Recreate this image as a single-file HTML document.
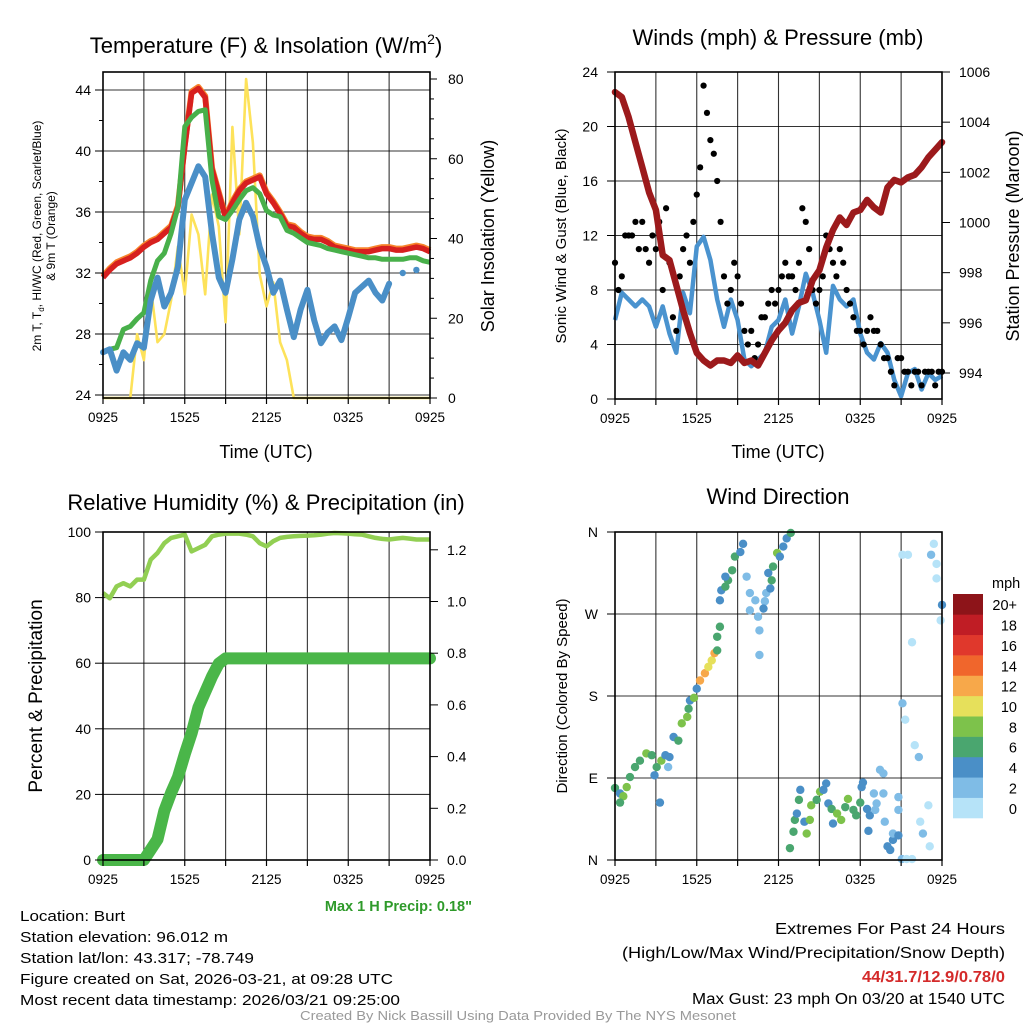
<!DOCTYPE html>
<html><head><meta charset="utf-8">
<style>
html,body{margin:0;padding:0;background:#fff;}
svg{display:block;font-family:"Liberation Sans",sans-serif;}
</style></head>
<body>
<svg id="fig" width="1024" height="1024" viewBox="0 0 1024 1024" xmlns="http://www.w3.org/2000/svg">
<rect width="1024" height="1024" fill="#fff"/>
<g id="root"></g>
</svg>
<script>
// ---------- DATA ----------
const hours = [0,0.5,1,1.5,2,2.5,3,3.5,4,4.5,5,5.5,6,6.5,7,7.5,8,8.5,9,9.5,10,10.5,11,11.5,12,12.5,13,13.5,14,14.5,15,15.5,16,16.5,17,17.5,18,18.5,19,19.5,20,20.5,21,21.5,22,22.5,23,23.5,24];
const xTickLabels = ["0925","1525","2125","0325","0925"];
// Panel 1 temperatures (F)
const tempRed   = [31.7,32.2,32.6,32.8,33.0,33.3,33.7,34.0,34.2,34.6,35.0,36.3,40.3,43.8,44.1,43.5,38.8,37.2,35.6,36.6,37.4,37.9,38.1,38.3,37.2,36.6,35.9,35.1,35.0,34.6,34.3,34.2,34.2,34.0,33.7,33.6,33.5,33.4,33.4,33.4,33.5,33.6,33.6,33.5,33.5,33.6,33.7,33.6,33.4];
const tempGreen = [null,27.0,27.1,28.3,28.5,29.0,29.4,31.5,32.8,33.3,34.6,36.3,41.6,42.2,42.6,42.7,38.1,35.7,35.5,36.1,36.8,37.4,37.6,37.2,36.1,35.8,35.7,34.8,34.6,34.3,34.0,33.9,33.8,33.6,33.5,33.4,33.3,33.2,33.1,33.0,33.0,32.9,32.9,32.9,32.9,33.0,33.0,32.8,32.7];
const tempBlue  = [26.8,27.0,25.6,26.8,26.3,27.4,27.1,30.2,31.7,29.8,30.7,32.4,36.8,37.9,39.0,38.3,34.6,31.7,30.7,32.9,35.5,36.6,35.7,33.7,32.4,30.7,31.5,29.6,27.8,29.6,30.9,28.9,27.4,28.1,28.5,27.6,29.1,30.7,31.1,31.5,30.7,30.2,31.3,null,32.0,null,32.2,null,null];
const insolation = [0,0,0,0,0,16,9.5,28,14,16,24.5,38,26,46,41,26,51,43,19,68,41,80,64,31,23,29,14,9.5,0,0,0,0,0,0,0,0,0,0,0,0,0,0,0,0,0,0,0,0,0];
const tempTicks = [24,28,32,36,40,44];
const insolTicks = [0,20,40,60,80];
// Panel 2 winds / pressure
const windSpeed = [5.8,7.8,7.3,6.8,7.3,6.8,5.3,6.8,4.8,3.4,7.8,6.3,11.2,11.9,10.2,7.3,5.3,7.3,5.8,2.9,2.4,2.9,3.4,5.3,5.8,7.3,4.8,6.8,9.2,7.8,5.8,3.4,8.3,7.3,6.8,7.3,4.8,3.4,2.9,4.1,3.4,1.4,0.2,1.9,2.2,0.7,1.9,1.4,1.7];
const pressure = [1005.2,1005.0,1004.2,1003.2,1002.2,1001.2,1000.5,998.7,998.5,997.5,996.5,995.6,994.8,994.5,994.3,994.5,994.5,994.4,994.7,994.4,994.5,994.3,994.8,995.3,995.7,996.0,996.5,996.8,996.9,997.7,998.1,999.0,999.7,1000.2,999.9,1000.4,1000.5,1000.9,1000.6,1000.4,1001.4,1001.7,1001.6,1001.8,1001.9,1002.2,1002.6,1002.9,1003.2];
const gustHours = [0,0.25,0.5,0.75,1,1.25,1.5,1.75,2,2.25,2.5,2.75,3,3.25,3.5,3.75,4,4.25,4.5,4.75,5,5.25,5.5,5.75,6,6.25,6.5,6.75,7,7.25,7.5,7.75,8,8.25,8.5,8.75,9,9.25,9.5,9.75,10,10.25,10.5,10.75,11,11.25,11.5,11.75,12,12.25,12.5,12.75,13,13.25,13.5,13.75,14,14.25,14.5,14.75,15,15.25,15.5,15.75,16,16.25,16.5,16.75,17,17.25,17.5,17.75,18,18.25,18.5,18.75,19,19.25,19.5,19.75,20,20.25,20.5,20.75,21,21.25,21.5,21.75,22,22.25,22.5,22.75,23,23.25,23.5,23.75,24];
const gusts = [10,8,9,12, 12,12,13,11, 13,11,10,12, 11,13,8,14, 10,6,5,9, 11,12,10,13, 15,17,23,21, 19,18,16,13, 9,7,8,10, 9,7,5,4, 5,3,4,6, 6,7,8,7, 8,9,10,9, 9,8,10,14, 13,11,8,7, 8,9,12,11, 10,9,11,10, 8,7,6,5, 5,4,5,6, 5,5,4,3, 3,2,1,3, 3,2,2,1, 2,2,1,2, 2,2,1,2, 2];
const windTicks = [0,4,8,12,16,20,24];
const presTicks = [994,996,998,1000,1002,1004,1006];
// Panel 3 RH / precip
const rh = [81.4,79.8,83.4,84.4,83.4,85.5,85.5,91.6,93.6,96.6,98.2,98.7,99.2,94.1,95.1,96.1,98.7,99.2,99.5,99.5,99.5,99.2,98.7,96.6,95.6,97.2,98.2,98.5,98.7,98.8,98.9,99.0,99.2,99.5,99.7,99.6,99.5,99.3,99.2,98.7,98.2,97.9,97.7,98.0,98.2,98.0,97.7,97.7,97.7];
const precip = [0,0,0,0,0,0,0,0.04,0.08,0.19,0.26,0.32,0.41,0.49,0.59,0.65,0.71,0.76,0.78,0.78,0.78,0.78,0.78,0.78,0.78,0.78,0.78,0.78,0.78,0.78,0.78,0.78,0.78,0.78,0.78,0.78,0.78,0.78,0.78,0.78,0.78,0.78,0.78,0.78,0.78,0.78,0.78,0.78,0.78];
const pctTicks = [0,20,40,60,80,100];
const precipTicks = ["0.0","0.2","0.4","0.6","0.8","1.0","1.2"];
// Panel 4 wind direction
const dirHours = [0,0.37,0.61,0.37,0.86,1.1,1.47,1.83,2.3,2.7,3.06,2.9,3.3,3.4,3.7,4.0,3.9,4.3,4.65,4.9,5.3,5.4,5.5,5.8,6.0,6.24,6.6,6.85,7.1,7.3,7.5,7.5,7.7,7.7,7.8,8.1,8.3,8.1,8.6,8.8,9.2,9.4,9.66,9.9,10.3,9.9,10.5,10.6,10.6,11.0,10.9,11.1,11.4,11.5,11.25,11.6,11.9,12.1,12.35,12.6,12.9,
 12.84,13.1,13.2,13.35,13.6,13.5,13.9,14.07,14.3,14.4,14.8,15.05,15.3,15.5,15.66,15.9,16.0,16.3,16.6,16.9,17.1,17.5,17.7,18.0,18.1,18.2,18.5,18.7,18.6,19.1,19.0,19.2,19.45,19.7,19.7,19.8,20.0,20.2,20.4,20.4,20.8,20.8,20.8,21.05,21.4,21.8,22.4,22.6,23.0,23.1,21.1,21.3,22.0,22.3,21.1,21.5,21.8,23.2,23.4,23.6,23.6,24,23.9];
const dirDeg = [79,73,70,63,80,91,102,109,117,115,102,93,63,109,115,113,102,135,131,150,157,166,175,178,188,197,205,212,219,227,230,245,256,285,296,300,307,311,318,333,338,347,311,293,285,274,267,252,225,284,276,293,298,307,315,322,337,333,344,353,359,
 13,31,44,51,77,66,42,29,44,60,66,75,77,84,62,56,40,51,44,58,67,55,49,63,80,85,56,49,32,55,73,62,99,95,73,42,15,11,22,29,27,55,69,1,1,1,42,29,60,15,172,154,126,113,335,335,239,335,347,325,309,280,263];
const dirSpeed = [6,4,8,6,8,6,6,6,8,6,6,4,4,8,4,4,2,4,6,8,8,6,4,8,4,12,12,10,10,12,6,6,6,4,4,6,6,4,6,6,4,4,2,2,2,2,2,2,2,2,4,2,4,6,4,6,8,4,4,4,6,
 6,6,6,4,4,6,4,8,8,8,6,8,4,4,4,6,4,8,8,6,8,6,6,6,4,4,4,4,4,2,2,2,2,2,2,2,4,4,4,2,4,2,2,2,0,0,0,2,0,0,2,0,0,2,0,0,0,2,0,0,0,4,0];
const dirTicks = ["N","E","S","W","N"];
const speedBins = ["0","2","4","6","8","10","12","14","16","18","20+"];
const speedColors = ["#b6e3f8","#7fbce6","#4a8fc7","#4aa66f","#7dc24b","#e6e05b","#f7a84a","#f0662c","#e0382c","#c01d25","#8d1419"];

// ---------- HELPERS ----------
const NS = "http://www.w3.org/2000/svg";
const root = document.getElementById("root");
function mk(tag, attrs, parent){ const e=document.createElementNS(NS,tag); for(const k in attrs) e.setAttribute(k,attrs[k]); (parent||root).appendChild(e); return e; }
function txt(s, attrs, parent){ const e=mk("text",attrs,parent); e.textContent=s; return e; }
const PX0=103, PX1=430, QX0=615, QX1=942;
const xA = t => PX0 + t*(PX1-PX0)/24;
const xB = t => QX0 + t*(QX1-QX0)/24;
function lin(d0,d1,r0,r1){ return v => r0 + (v-d0)*(r1-r0)/(d1-d0); }
function pathFrom(xs, ys, xf, yf){
  let d="", pen=false;
  for(let i=0;i<xs.length;i++){ const v=ys[i]; if(v===null){pen=false;continue;} d+=(pen?"L":"M")+xf(xs[i]).toFixed(1)+","+yf(v).toFixed(1); pen=true; }
  return d;
}
function grid(g, x0,x1,y0,y1, ys){
  for(let k=1;k<8;k++){ const x=x0+k*(x1-x0)/8; const l=mk("line",{x1:x,x2:x,y1:y0,y2:y1,stroke:"#000","stroke-width":1.1,"stroke-opacity":0.8},g);   }
  ys.forEach(y=>{ const l=mk("line",{x1:x0,x2:x1,y1:y,y2:y,stroke:"#000","stroke-width":1.1,"stroke-opacity":0.8},g);   });
}
function frame(g,x0,x1,y0,y1){
  const r=mk("rect",{x:x0,y:y0,width:x1-x0,height:y1-y0,fill:"none",stroke:"#000","stroke-width":1.6},g);
   
}
function xAxis(g,x0,x1,y1,xf){
  for(let k=0;k<=8;k++){ const x=x0+k*(x1-x0)/8; mk("line",{x1:x,x2:x,y1:y1,y2:y1+6,stroke:"#000","stroke-width":1.2},g); }
  xTickLabels.forEach((s,i)=>{ const t=txt(s,{x:xf(i*6),y:y1+24,"font-size":13.5,"text-anchor":"middle"},g);   });
}

// ---------- PANEL 1 ----------
(function(){
  const g=mk("g",{});  
  const yT=lin(24,44,395,90), yI=lin(0,80,398,79);
  grid(g,PX0,PX1,72,398,tempTicks.slice(1,5).map(yT).concat([yT(44),yT(24)]));
  const sI=mk("path",{d:pathFrom(hours,insolation,xA,yI),fill:"none",stroke:"#fde25a","stroke-width":2.6,"stroke-linejoin":"round"},g);  
  const sO=mk("path",{d:pathFrom(hours,tempRed,xA,yT),fill:"none",stroke:"#f7842c","stroke-width":6,"stroke-linejoin":"round",transform:"translate(0,-1.5)"},g);  
  const sR=mk("path",{d:pathFrom(hours,tempRed,xA,yT),fill:"none",stroke:"#d7201f","stroke-width":5.5,"stroke-linejoin":"round"},g);  
  const sG=mk("path",{d:pathFrom(hours,tempGreen,xA,yT),fill:"none",stroke:"#48b04a","stroke-width":5,"stroke-linejoin":"round"},g);  
  const sB=mk("path",{d:pathFrom(hours,tempBlue,xA,yT),fill:"none",stroke:"#4a8fc7","stroke-width":6,"stroke-linejoin":"round","stroke-linecap":"round"},g);  
  [32.0,32.2].forEach((v,i)=>{ const c=mk("circle",{cx:xA([22,23][i]),cy:yT(v),r:3.2,fill:"#4a8fc7"},g);   });
  frame(g,PX0,PX1,72,398);
  tempTicks.forEach(v=>{ mk("line",{x1:95,x2:PX0,y1:yT(v),y2:yT(v),stroke:"#000"},g); const t=txt(String(v),{x:91,y:yT(v)+5,"font-size":14,"text-anchor":"end"},g);   });
  for(let v=26;v<44;v+=4) mk("line",{x1:99,x2:PX0,y1:yT(v),y2:yT(v),stroke:"#000"},g);
  insolTicks.forEach(v=>{ mk("line",{x1:PX1,x2:PX1+7,y1:yI(v),y2:yI(v),stroke:"#000"},g); const t=txt(String(v),{x:448,y:yI(v)+5,"font-size":14},g);   });
  for(let v=5;v<80;v+=5) if(v%20) mk("line",{x1:PX1,x2:PX1+4,y1:yI(v),y2:yI(v),stroke:"#000"},g);
  xAxis(g,PX0,PX1,398,xA);
  const ti=txt("",{x:266,y:53,"font-size":22,"text-anchor":"middle"},g); ti.innerHTML='Temperature (F) &amp; Insolation (W/m<tspan dy="-9" font-size="14">2</tspan><tspan dy="9">)</tspan>';  
  const xt=txt("Time (UTC)",{x:266,y:458,"font-size":18,"text-anchor":"middle"},g);  
  const yl=txt("",{transform:"translate(41,236) rotate(-90)","font-size":12,"text-anchor":"middle"},g); yl.innerHTML='2m T, T<tspan dy="3" font-size="8">d</tspan><tspan dy="-3">, HI/WC (Red, Green, Scarlet/Blue)</tspan>';  
  const yl2=txt("& 9m T (Orange)",{transform:"translate(55,236) rotate(-90)","font-size":12,"text-anchor":"middle"},g);  
  const yr=txt("Solar Insolation (Yellow)",{transform:"translate(494,236) rotate(-90)","font-size":18,"text-anchor":"middle"},g);  
})();

// ---------- PANEL 2 ----------
(function(){
  const g=mk("g",{});  
  const yW=lin(0,24,399,72), yP=lin(994,1006,373,72);
  grid(g,QX0,QX1,72,399,windTicks.slice(1,6).map(yW));
  const sW=mk("path",{d:pathFrom(hours,windSpeed,xB,yW),fill:"none",stroke:"#4a93cf","stroke-width":4.5,"stroke-linejoin":"round"},g);  
  gustHours.forEach((h,i)=>{ const c=mk("circle",{cx:xB(h),cy:yW(gusts[i]),r:3.1,fill:"#000"},g);   });
  const sP=mk("path",{d:pathFrom(hours,pressure,xB,yP),fill:"none",stroke:"#9c1a1c","stroke-width":6.5,"stroke-linejoin":"round","stroke-linecap":"round"},g);  
  frame(g,QX0,QX1,72,399);
  windTicks.forEach(v=>{ mk("line",{x1:QX0-8,x2:QX0,y1:yW(v),y2:yW(v),stroke:"#000"},g); const t=txt(String(v),{x:598,y:yW(v)+5,"font-size":14,"text-anchor":"end"},g);   });
  presTicks.forEach(v=>{ mk("line",{x1:QX1,x2:QX1+8,y1:yP(v),y2:yP(v),stroke:"#000"},g); const t=txt(String(v),{x:959,y:yP(v)+5,"font-size":14},g);   });
  xAxis(g,QX0,QX1,399,xB);
  const ti=txt("Winds (mph) & Pressure (mb)",{x:778,y:45,"font-size":22,"text-anchor":"middle"},g);  
  const xt=txt("Time (UTC)",{x:778,y:458,"font-size":18,"text-anchor":"middle"},g);  
  const yl=txt("Sonic Wind & Gust (Blue, Black)",{transform:"translate(566,236) rotate(-90)","font-size":15,"text-anchor":"middle"},g);  
  const yr=txt("Station Pressure (Maroon)",{transform:"translate(1019,236) rotate(-90)","font-size":18,"text-anchor":"middle"},g);  
})();

// ---------- PANEL 3 ----------
(function(){
  const g=mk("g",{});  
  const yR=lin(0,100,860,532), yQ=lin(0,1,860,601.5);
  grid(g,PX0,PX1,532,860,pctTicks.slice(1,5).map(yR));
  const sH=mk("path",{d:pathFrom(hours,rh,xA,yR),fill:"none",stroke:"#92cf53","stroke-width":4.5,"stroke-linejoin":"round"},g);  
  const sQ=mk("path",{d:pathFrom(hours,precip,xA,yQ),fill:"none",stroke:"#4ab649","stroke-width":12,"stroke-linejoin":"round","stroke-linecap":"round"},g);  
  frame(g,PX0,PX1,532,860);
  pctTicks.forEach(v=>{ mk("line",{x1:95,x2:PX0,y1:yR(v),y2:yR(v),stroke:"#000"},g); const t=txt(String(v),{x:91,y:yR(v)+5,"font-size":14,"text-anchor":"end"},g);   });
  precipTicks.forEach(s=>{ const v=parseFloat(s); mk("line",{x1:PX1,x2:PX1+8,y1:yQ(v),y2:yQ(v),stroke:"#000"},g); const t=txt(s,{x:447,y:yQ(v)+5,"font-size":14},g);   });
  xAxis(g,PX0,PX1,860,xA);
  const ti=txt("Relative Humidity (%) & Precipitation (in)",{x:266,y:510,"font-size":22,"text-anchor":"middle"},g);  
  const yl=txt("Percent & Precipitation",{transform:"translate(42,696) rotate(-90)","font-size":19,"text-anchor":"middle"},g);  
  const mp=txt('Max 1 H Precip: 0.18"',{x:472,y:911,"font-size":14.5,"font-weight":"bold","text-anchor":"end",fill:"#2e9a2a"},g);  
})();

// ---------- PANEL 4 ----------
(function(){
  const g=mk("g",{});  
  const yD=lin(0,360,860,532);
  grid(g,QX0,QX1,532,860,[90,180,270].map(yD));
  dirHours.forEach((h,i)=>{ const c=mk("circle",{cx:xB(h),cy:yD(dirDeg[i]),r:4.2,fill:speedColors[Math.min(10,Math.round(dirSpeed[i]/2))]},g);   });
  frame(g,QX0,QX1,532,860);
  dirTicks.forEach((s,i)=>{ const y=yD(i*90); mk("line",{x1:QX0-8,x2:QX0,y1:y,y2:y,stroke:"#000"},g); const t=txt(s,{x:598,y:y+5,"font-size":14,"text-anchor":"end"},g);   });
  xAxis(g,QX0,QX1,860,xB);
  const ti=txt("Wind Direction",{x:778,y:504,"font-size":22,"text-anchor":"middle"},g);  
  const yl=txt("Direction (Colored By Speed)",{transform:"translate(567,696) rotate(-90)","font-size":15,"text-anchor":"middle"},g);  
  const cb=mk("g",{},g);  
  const bh=(818-594)/speedBins.length;
  speedBins.forEach((s,i)=>{ const y=818-(i+1)*bh; const r=mk("rect",{x:953,y:y,width:30,height:bh+0.3,fill:speedColors[i]},cb);   const t=txt(s,{x:1017,y:y+bh/2+6,"font-size":14.5,"text-anchor":"end"},cb);   });
  const u=txt("mph",{x:992,y:588,"font-size":14.5},cb);  
})();

// ---------- FOOTER ----------
(function(){
  const g=mk("g",{});  
  const L=[["Location: Burt",921,105],["Station elevation: 96.012 m",942,208],["Station lat/lon: 43.317; -78.749",963,234],["Figure created on Sat, 2026-03-21, at 09:28 UTC",984,373],["Most recent data timestamp: 2026/03/21 09:25:00",1005,380]];
  L.forEach(a=>{ const t=txt(a[0],{x:20,y:a[1],"font-size":15,textLength:a[2],lengthAdjust:"spacingAndGlyphs"},g);   });
  const R=[["Extremes For Past 24 Hours",934,230,"#000","normal"],["(High/Low/Max Wind/Precipitation/Snow Depth)",958,383,"#000","normal"],["44/31.7/12.9/0.78/0",982,143,"#d42a2a","bold"],["Max Gust: 23 mph On 03/20 at 1540 UTC",1004,313,"#000","normal"]];
  R.forEach(a=>{ const t=txt(a[0],{x:1005-a[2],y:a[1],"font-size":15.5,textLength:a[2],lengthAdjust:"spacingAndGlyphs",fill:a[3],"font-weight":a[4]},g);   });
  const c=txt("Created By Nick Bassill Using Data Provided By The NYS Mesonet",{x:300,y:1020,"font-size":13,fill:"#999",textLength:436,lengthAdjust:"spacingAndGlyphs"},g);  
})();
</script>
</body></html>
